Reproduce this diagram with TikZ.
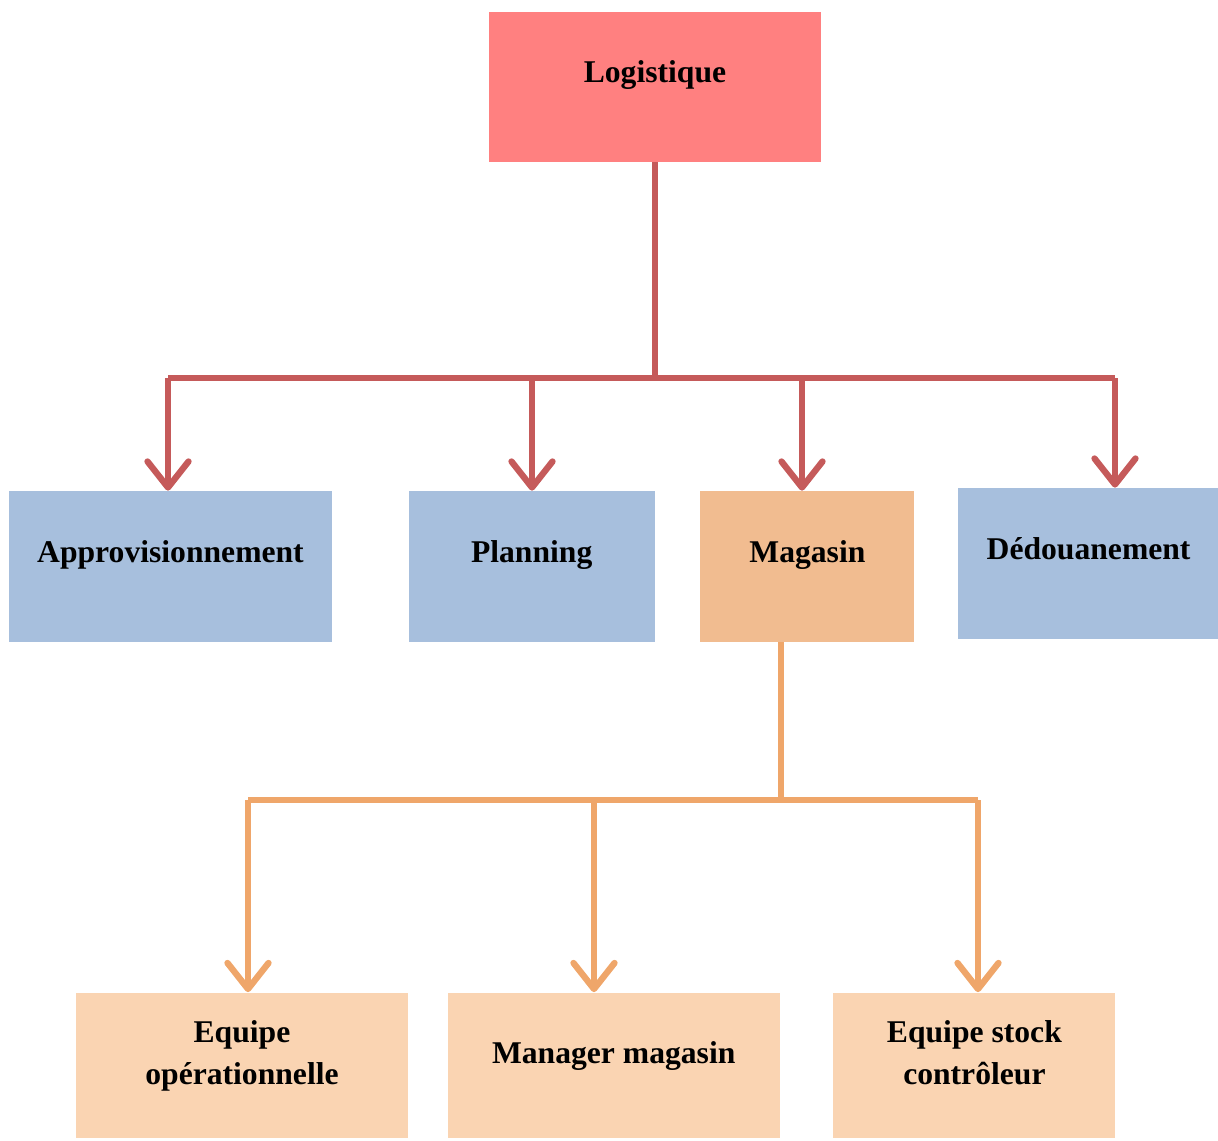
\documentclass[tikz,border=0pt]{standalone}
\usepackage{fontspec}
\setmainfont{Liberation Serif}
\usetikzlibrary{arrows.meta, positioning}
\definecolor{logired}{HTML}{FF8080}
\definecolor{deptblue}{HTML}{A7BFDD}
\definecolor{magorange}{HTML}{F1BC90}
\definecolor{teampeach}{HTML}{FAD4B2}
\definecolor{linkred}{HTML}{C55A5A}
\definecolor{linkorange}{HTML}{EFA66A}
\tikzset{
  head/.style={fill=logired, minimum width=6.64cm, minimum height=3cm, inner sep=0pt,
    text depth=0.6cm, font=\fontsize{18}{24}\selectfont\bfseries},
  dept/.style={fill=deptblue, minimum height=3.02cm, inner sep=0pt,
    text depth=0.6cm, font=\fontsize{18}{24}\selectfont\bfseries},
  team/.style={fill=teampeach, minimum width=6.64cm, minimum height=2.9cm, inner sep=0pt,
    align=center, text depth=0.49cm, font=\fontsize{18}{24}\selectfont\bfseries},
  redlink/.style={draw=linkred, line width=3.6pt},
  orangelink/.style={draw=linkorange, line width=3.6pt},
  redarrow/.style={redlink, -{Straight Barb[length=0.52cm, width=0.82cm, round]}},
  orangearrow/.style={orangelink, -{Straight Barb[length=0.52cm, width=0.82cm, round]}}
}
\begin{document}
\begin{tikzpicture}[node distance=0.9cm and 0.9cm]
  \useasboundingbox (0,0) rectangle (24.36,-22.8);
  \node[head] (logi) at (13.1,-1.74) {Logistique};
  \node[dept, minimum width=6.46cm] (appro) at (3.41,-11.33) {Approvisionnement};
  \node[dept, minimum width=4.92cm, right=1.52cm of appro] (plan) {Planning};
  \node[dept, fill=magorange, minimum width=4.28cm, right=0.9cm of plan] (maga) {Magasin};
  \node[dept, minimum width=5.22cm, right=0.86cm of maga, yshift=0.06cm] (dedou) {Dédouanement};
  \node[team] (equipe) at (4.84,-21.30) {Equipe\\opérationnelle};
  \node[team, right=0.78cm of equipe] (manager) {Manager magasin};
  \node[team, minimum width=5.64cm, right=1.06cm of manager] (stock) {Equipe stock\\contrôleur};
  \coordinate (rtrunk) at (13.1,-7.56);
  \coordinate (rleft) at (3.36,-7.56);
  \coordinate (rb2) at (10.64,-7.56);
  \coordinate (rb3) at (16.04,-7.56);
  \coordinate (rright) at (22.3,-7.56);
  \draw[redlink] (logi.south) -- (rtrunk);
  \draw[redlink] (rleft) -- (rright);
  \draw[redarrow] (rleft) -- (rleft |- appro.north);
  \draw[redarrow] (rb2) -- (rb2 |- plan.north);
  \draw[redarrow] (rb3) -- (rb3 |- maga.north);
  \draw[redarrow] (rright) -- (rright |- dedou.north);
  \coordinate (otrunk) at (15.62,-16.0);
  \coordinate (oleft) at (4.96,-16.0);
  \coordinate (ob2) at (11.88,-16.0);
  \coordinate (oright) at (19.56,-16.0);
  \draw[orangelink] (otrunk |- maga.south) -- (otrunk);
  \draw[orangelink] (oleft) -- (oright);
  \draw[orangearrow] (oleft) -- (oleft |- equipe.north);
  \draw[orangearrow] (ob2) -- (ob2 |- manager.north);
  \draw[orangearrow] (oright) -- (oright |- stock.north);
\end{tikzpicture}
\end{document}
